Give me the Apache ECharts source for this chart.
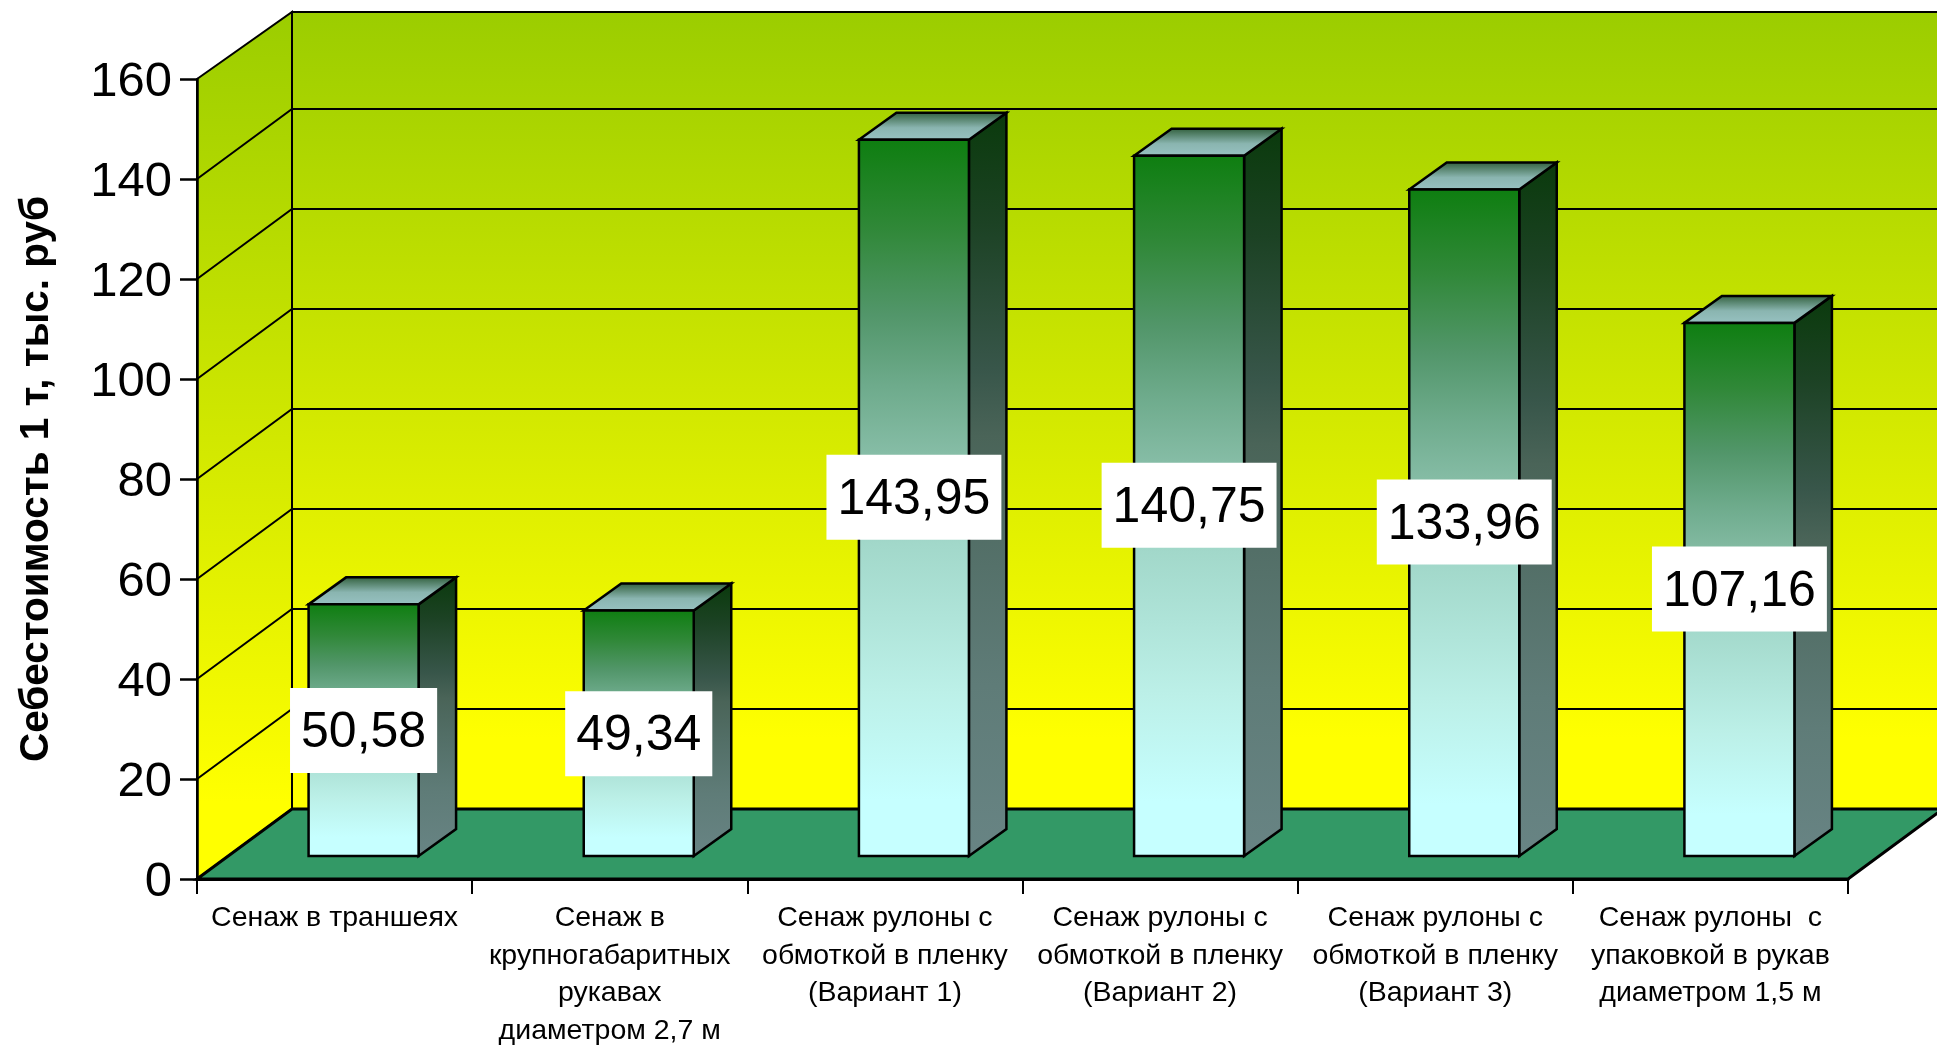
<!DOCTYPE html>
<html>
<head>
<meta charset="utf-8">
<script src="https://cdn.jsdelivr.net/npm/echarts@6/dist/echarts.min.js"></script>
<style>html,body{margin:0;padding:0;background:#fff}#c{width:1937px;height:1045px}</style>
</head>
<body>
<div id="c"></div>
<script>
var categories = [
  'Сенаж в траншеях',
  'Сенаж в\nкрупногабаритных\nрукавах\nдиаметром 2,7 м',
  'Сенаж рулоны с\nобмоткой в пленку\n(Вариант 1)',
  'Сенаж рулоны с\nобмоткой в пленку\n(Вариант 2)',
  'Сенаж рулоны с\nобмоткой в пленку\n(Вариант 3)',
  'Сенаж рулоны  с\nупаковкой в рукав\nдиаметром 1,5 м'
];
var costValues = [50.58, 49.34, 143.95, 140.75, 133.96, 107.16];
var yTicks = [0, 20, 40, 60, 80, 100, 120, 140, 160];
var yAxisTitle = 'Себестоимость 1 т, тыс. руб';

var FONT = '"Liberation Sans", Arial, sans-serif';
var WALL_DX = 95, WALL_DY = 70;      // depth of the chart box
var TOP_TRIM = 3;                    // the box top sits a little lower than the scale implies
var BAR_DX = 29, BAR_DY = 23;        // front of a bar relative to the front of the floor
var BAR_HALF = 55;                   // half width of the bar front
var BAR_SCALE = 0.995;               // bars stand a little nearer than the scale plane
var SIDE_DX = 37.5, SIDE_DY = 27;    // depth of a bar
var LINE = 2, BAR_LINE = 2.5;

function vGrad(stops) {
  return { type: 'linear', x: 0, y: 0, x2: 0, y2: 1,
    colorStops: stops.map(function (s) { return { offset: s[0], color: s[1] }; }) };
}

var wallGrad = [[0, '#9BCD00'], [0.91, '#FFFF00'], [1, '#FFFF00']];
var frontGrad = [[0, '#0E7E10'], [0.125, '#308838'], [0.245, '#52966A'], [0.345, '#6EAB8C'], [0.435, '#85BCA5'], [0.565, '#A2D8CA'], [0.77, '#BCF0E8'], [0.92, '#C6FFFF'], [1, '#C6FFFF']];
var sideGrad = [[0, '#0A3A0C'], [0.15, '#1C4224'], [0.345, '#38564A'], [0.435, '#4A6458'], [0.565, '#526E66'], [0.77, '#5F7C78'], [1, '#688484']];
var topGrad = [[0, '#2E5C38'], [0.55, '#8AB5B0'], [1, '#98C2C2']];

function renderWalls(params, api) {
  var cs = params.coordSys;
  var l = cs.x, r = cs.x + cs.width;
  var y0 = api.coord([0, yTicks[0]])[1];
  var yT = api.coord([0, yTicks[yTicks.length - 1]])[1];
  var backTop = yT - WALL_DY + TOP_TRIM;
  return { type: 'group', children: [
    { type: 'polygon', shape: { points: [[l + WALL_DX, backTop], [r + WALL_DX, backTop], [r + WALL_DX, y0 - WALL_DY], [l + WALL_DX, y0 - WALL_DY]] },
      style: { fill: vGrad(wallGrad), stroke: '#000', lineWidth: LINE } },
    { type: 'polygon', shape: { points: [[l, yT], [l + WALL_DX, backTop], [l + WALL_DX, y0 - WALL_DY], [l, y0]] },
      style: { fill: vGrad(wallGrad), stroke: '#000', lineWidth: LINE } },
    { type: 'polygon', shape: { points: [[l, y0], [l + WALL_DX, y0 - WALL_DY], [r + WALL_DX, y0 - WALL_DY], [r, y0]] },
      style: { fill: '#339966', stroke: '#000', lineWidth: 3 } }
  ] };
}

function renderGridLine(params, api) {
  var cs = params.coordSys;
  var l = cs.x, r = cs.x + cs.width;
  var y = api.coord([0, api.value(0)])[1];
  return { type: 'polyline',
    shape: { points: [[l, y], [l + WALL_DX, y - WALL_DY], [r + WALL_DX, y - WALL_DY]] },
    style: { fill: null, stroke: '#000', lineWidth: LINE } };
}

function renderBar(params, api) {
  var idx = api.value(0), v = api.value(1);
  var top = api.coord([idx, v]), base = api.coord([idx, 0]);
  var xL = base[0] + BAR_DX - BAR_HALF, xR = base[0] + BAR_DX + BAR_HALF;
  var yB = base[1] - BAR_DY, yT = yB - (base[1] - top[1]) * BAR_SCALE;
  var st = function (fill) { return { fill: fill, stroke: '#000', lineWidth: BAR_LINE, lineJoin: 'miter' }; };
  return { type: 'group', children: [
    { type: 'polygon', shape: { points: [[xR, yB], [xR + SIDE_DX, yB - SIDE_DY], [xR + SIDE_DX, yT - SIDE_DY], [xR, yT]] },
      style: st(vGrad(sideGrad)) },
    { type: 'polygon', shape: { points: [[xL, yT], [xL + SIDE_DX, yT - SIDE_DY], [xR + SIDE_DX, yT - SIDE_DY], [xR, yT]] },
      style: st(vGrad(topGrad)) },
    { type: 'rect', shape: { x: xL, y: yT, width: xR - xL, height: yB - yT },
      style: st(vGrad(frontGrad)) }
  ] };
}

function renderLabel(params, api) {
  var idx = api.value(0), v = api.value(1);
  var top = api.coord([idx, v]), base = api.coord([idx, 0]);
  var cx = base[0] + BAR_DX, cy = (top[1] + base[1]) / 2 - BAR_DY + 1;
  var txt = v.toFixed(2).replace('.', ',');
  return { type: 'group', children: [
    { type: 'text', z2: 100, x: cx, y: cy,
      style: { text: txt, fill: 'rgba(0,0,0,0)', font: '50px ' + FONT, align: 'center', verticalAlign: 'middle',
        backgroundColor: '#fff', padding: [15, 11, 15, 11], lineHeight: 55 } },
    { type: 'text', z2: 101, x: cx, y: cy + 3,
      style: { text: txt, fill: '#000', font: '50px ' + FONT, align: 'center', verticalAlign: 'middle', lineHeight: 55 } }
  ] };
}

var barData = costValues.map(function (v, i) { return [i, v]; });
var chart = echarts.init(document.getElementById('c'), null, { renderer: 'canvas' });
chart.setOption({
  animation: false,
  backgroundColor: '#fff',
  grid: { left: 197, right: 89, top: 79, bottom: 166, outerBoundsMode: 'none' },
  xAxis: {
    type: 'category', data: categories, z: 10,
    axisTick: { show: true, length: 15, alignWithLabel: false, lineStyle: { color: '#000', width: 2 } },
    axisLine: { lineStyle: { color: '#000', width: 3 } },
    axisLabel: { interval: 0, color: '#000', fontFamily: FONT, fontSize: 28.5, lineHeight: 37.5, margin: 20.5, verticalAlign: 'top', hideOverlap: false }
  },
  yAxis: {
    type: 'value', min: yTicks[0], max: yTicks[yTicks.length - 1], interval: yTicks[1] - yTicks[0], z: 10,
    name: yAxisTitle, nameLocation: 'middle', nameRotate: 90, nameGap: 140,
    nameTextStyle: { color: '#000', fontFamily: FONT, fontWeight: 'bold', fontSize: 40.5 },
    splitLine: { show: false },
    axisTick: { show: true, length: 17, lineStyle: { color: '#000', width: 2.5 } },
    axisLine: { show: true, lineStyle: { color: '#000', width: 2.5 } },
    axisLabel: { color: '#000', fontFamily: FONT, fontSize: 49, margin: 25, verticalAlign: 'top', lineHeight: 7 }
  },
  series: [
    { type: 'custom', z: 1, silent: true, data: [[0]], renderItem: renderWalls },
    { type: 'custom', z: 2, silent: true, data: yTicks.slice(1, -1).map(function (t) { return [t]; }), renderItem: renderGridLine, encode: { y: 0 } },
    { type: 'custom', z: 3, silent: true, data: barData, renderItem: renderBar, encode: { x: 0, y: 1 } },
    { type: 'custom', z: 4, silent: true, data: barData, renderItem: renderLabel, encode: { x: 0, y: 1 } }
  ]
});
</script>
</body>
</html>
